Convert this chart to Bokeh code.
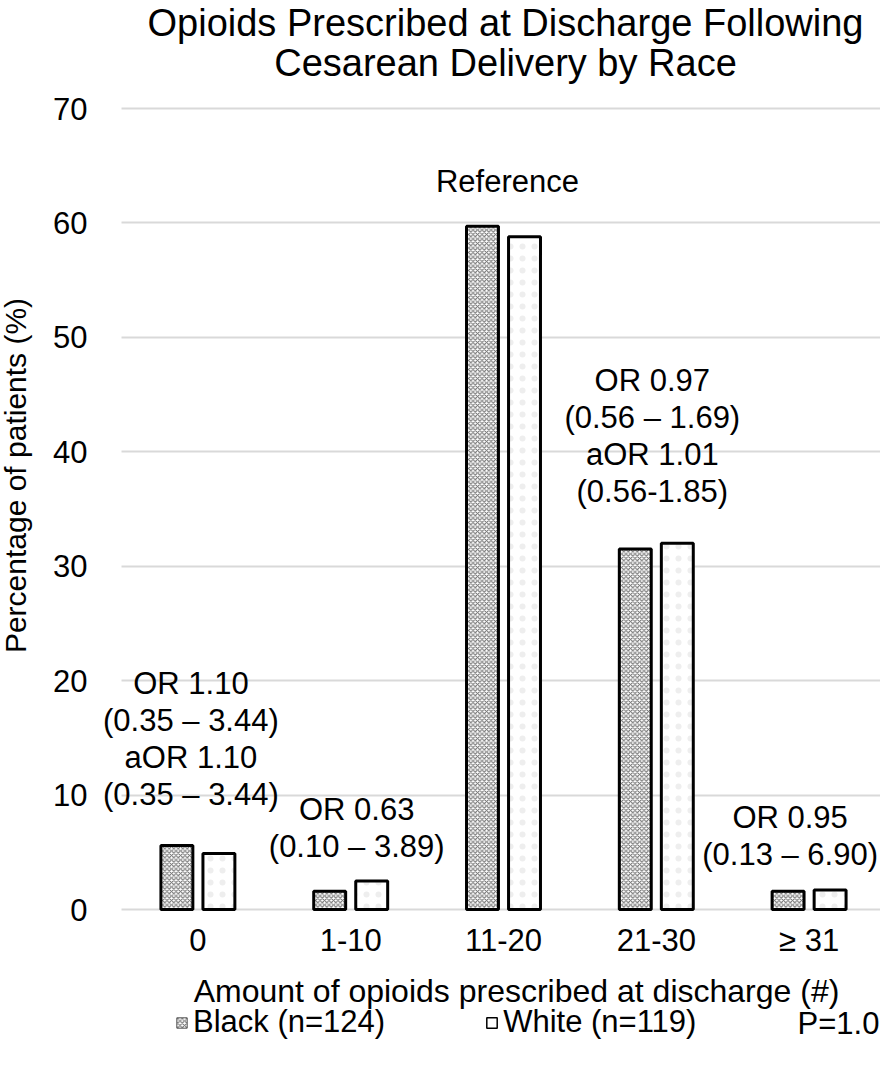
import math
from bokeh.plotting import figure
from bokeh.models import (Range1d, FixedTicker, Label, Legend, LegendItem,
                          ColumnDataSource)
from bokeh.transform import dodge
from bokeh.embed import file_html
from bokeh.resources import INLINE

# ---------------- data ----------------
categories = ["0", "1-10", "11-20", "21-30", "\u2265 31"]
black_pct = [5.6, 1.6, 59.7, 31.5, 1.6]
white_pct = [4.9, 2.5, 58.8, 32.0, 1.7]
y_ticks = [0, 10, 20, 30, 40, 50, 60, 70]

series_labels = ["Black (n=124)", "White (n=119)"]
p_value_text = "P=1.0"

title_lines = ["Opioids Prescribed at Discharge Following",
               "Cesarean Delivery by Race"]
x_title = "Amount of opioids prescribed at discharge (#)"
y_title = "Percentage of patients (%)"

# odds-ratio annotations: category, lines of text
ann_categories = ["0", "1-10", "11-20", "21-30", "\u2265 31"]
ann_texts = [
    ["OR 1.10", "(0.35 \u2013 3.44)", "aOR 1.10", "(0.35 \u2013 3.44)"],
    ["OR 0.63", "(0.10 \u2013 3.89)"],
    ["Reference"],
    ["OR 0.97", "(0.56 \u2013 1.69)", "aOR 1.01", "(0.56-1.85)"],
    ["OR 0.95", "(0.13 \u2013 6.90)"],
]
# y (data units) of the first line of each annotation block
ann_top_y = [19.75, 8.74, 63.6, 46.2, 8.04]
ann_dx = [-7, 6, 4, -4, -19]   # horizontal nudges (px)

FONT = "Liberation Sans"
FS = "31px"

# category positions on a numeric axis (category i centred at i + 0.5)
xpos = [i + 0.5 for i in range(len(categories))]

# ---------------- layout geometry (pixels) ----------------
W, H = 880, 1052
PLOT_LEFT, PLOT_TOP, PLOT_BOTTOM = 121, 108, 909   # where x=0, y=70, y=0 fall
CAT_W = 152.8
YMAX = 70
px_per_unit = (PLOT_BOTTOM - PLOT_TOP) / YMAX
x_start = -PLOT_LEFT / CAT_W
x_end = (W - PLOT_LEFT) / CAT_W
y_start = -(H - PLOT_BOTTOM) / px_per_unit
y_end = YMAX + PLOT_TOP / px_per_unit

p = figure(x_range=Range1d(x_start, x_end), y_range=Range1d(y_start, y_end),
           width=W, height=H, output_backend="svg", toolbar_location=None,
           min_border=0)
try:
    p.title_location = None
except Exception:
    p.title.text = ""
p.outline_line_color = None
p.background_fill_color = "white"
p.border_fill_color = "white"

src = ColumnDataSource(dict(x=xpos, black=black_pct, white=white_pct))

BW = 0.209
OFF = 0.1375
black_style = dict(fill_color="white", hatch_pattern="diagonal_cross",
                   hatch_color="#6e6e6e", hatch_scale=4.5, hatch_weight=1.1)
white_style = dict(fill_color="white", hatch_pattern="dot",
                   hatch_color="#eeeeee", hatch_scale=12, hatch_weight=1.5)

p.vbar(x=dodge("x", -OFF), top="black", width=BW, source=src,
       line_color="black", line_width=3, **black_style)
p.vbar(x=dodge("x", OFF), top="white", width=BW, source=src,
       line_color="black", line_width=3, **white_style)

# hidden renderers used only to draw thin-outlined legend swatches
lg_black = p.vbar(x=dodge("x", -OFF), top="black", width=BW, source=src,
                  line_color="#555555", line_width=1, visible=False,
                  **black_style)
lg_white = p.vbar(x=dodge("x", OFF), top="white", width=BW, source=src,
                  line_color="black", line_width=1.5, visible=False,
                  fill_alpha=1.0, fill_color="white")

legend = Legend(items=[LegendItem(label=series_labels[0], renderers=[lg_black]),
                       LegendItem(label=series_labels[1], renderers=[lg_white])],
                orientation="horizontal", location=(175, 12),
                glyph_width=13, glyph_height=13, label_standoff=5,
                spacing=100, padding=0, margin=0,
                border_line_color=None, background_fill_alpha=0,
                inactive_fill_alpha=0,
                label_text_font=FONT, label_text_font_size=FS,
                label_text_color="black")
p.add_layout(legend, "center")

# ---------------- axes & grid ----------------
p.xaxis.ticker = FixedTicker(ticks=xpos)
p.xaxis.major_label_overrides = {x: c for x, c in zip(xpos, categories)}
p.xaxis.fixed_location = 0
p.yaxis.ticker = FixedTicker(ticks=y_ticks)
p.yaxis.fixed_location = -26 / CAT_W
for ax in (p.xaxis, p.yaxis):
    ax.axis_line_color = None
    ax.major_tick_line_color = None
    ax.minor_tick_line_color = None
    ax.major_label_text_font = FONT
    ax.major_label_text_font_size = FS
    ax.major_label_text_color = "black"
p.yaxis.major_label_standoff = 2
p.xaxis.major_label_standoff = 7

p.xgrid.grid_line_color = None
p.ygrid.grid_line_color = "#d9d9d9"
p.ygrid.grid_line_width = 2
p.ygrid.cross_bounds = (0, x_end)

# ---------------- texts ----------------
def screen_label(text, x, y_from_top, size=FS, align="center", angle=0.0):
    p.add_layout(Label(x=x, y=H - y_from_top, x_units="screen", y_units="screen",
                       text=text, angle=angle, text_align=align,
                       text_baseline="middle", text_font=FONT,
                       text_font_size=size, text_color="black"))

screen_label(title_lines[0], 505, 22, size="38px")
screen_label(title_lines[1], 505, 62, size="38px")
screen_label(x_title, 516, 990, size="32px")
screen_label(y_title, 15, 475, size="30px", angle=math.pi / 2)
screen_label(p_value_text, 797, 1023, align="left")

for cat, lines, y0, dx in zip(ann_categories, ann_texts, ann_top_y, ann_dx):
    xi = xpos[categories.index(cat)]
    for i, t in enumerate(lines):
        p.add_layout(Label(x=xi, y=y0, x_offset=dx, y_offset=-37 * i, text=t,
                           text_align="center", text_baseline="middle",
                           text_font=FONT, text_font_size=FS,
                           text_color="black"))

open("out.html", "w").write(file_html(p, INLINE))
